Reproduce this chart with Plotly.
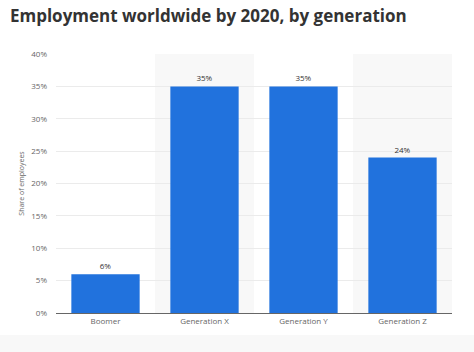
import plotly.graph_objects as go

categories = ["Boomer", "Generation X", "Generation Y", "Generation Z"]
values = [6, 35, 35, 24]
y_ticks = [0, 5, 10, 15, 20, 25, 30, 35, 40]
y_ticklabels = [f"{v}%" for v in y_ticks]
value_labels = [f"{v}%" for v in values]

fig = go.Figure()
fig.add_trace(go.Bar(
    x=categories, y=values,
    marker=dict(color="#2172dd", line=dict(width=0)),
    width=0.69,
    text=value_labels, textposition="outside",
    textfont=dict(family="Open Sans", size=8, color="#333333"),
    cliponaxis=False,
))

shapes = []
for i in [1, 3]:
    shapes.append(dict(type="rect", xref="x", yref="paper", x0=i - 0.5, x1=i + 0.5,
                       y0=0, y1=1, fillcolor="#f8f8f8", line=dict(width=0), layer="below"))
shapes.append(dict(type="rect", xref="paper", yref="paper", x0=-0.2, x1=1.1,
                   y0=-0.16, y1=-0.085, fillcolor="#f8f8f8", line=dict(width=0), layer="below"))

fig.update_layout(
    width=474, height=352,
    margin=dict(l=56, r=22, t=54, b=39),
    paper_bgcolor="white", plot_bgcolor="white",
    showlegend=False,
    shapes=shapes,
    title=dict(text="<b>Employment worldwide by 2020, by generation</b>",
               x=0.021, xanchor="left", y=0.955, yanchor="middle",
               font=dict(family="Open Sans", size=17, color="#333333")),
    xaxis=dict(tickfont=dict(family="Open Sans", size=8, color="#666666"),
               showline=True, linecolor="#666666", linewidth=1,
               showgrid=False, ticks="", range=[-0.5, 3.5]),
    yaxis=dict(range=[0, 40], tickvals=y_ticks, ticktext=y_ticklabels,
               tickfont=dict(family="Open Sans", size=8, color="#666666"),
               showgrid=True, gridcolor="#ebebeb", gridwidth=1,
               zeroline=False, ticks="", ticklen=0, ticklabelstandoff=8,
               title=dict(text="Share of employees", standoff=5,
                          font=dict(family="Open Sans", size=7, color="#666666"))),
    bargap=0.31,
)

fig.write_html("out.html")
